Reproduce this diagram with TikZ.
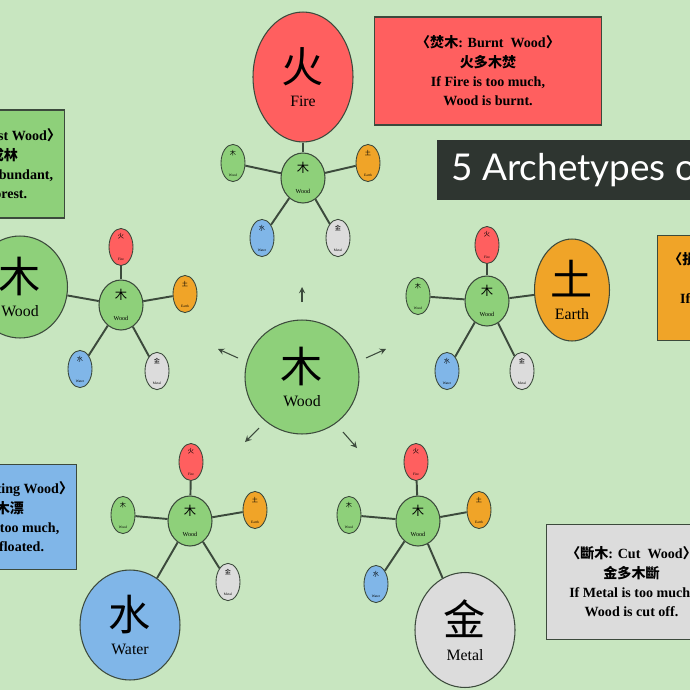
\documentclass[tikz,border=0pt]{standalone}
\usepackage{fontspec}
\setmainfont{Liberation Serif}
\newfontfamily\cjk{Noto Sans CJK SC}
\newfontfamily\titlefont{Lato}
\usetikzlibrary{shapes.geometric}
\definecolor{bg}{HTML}{C8E6C0}
\definecolor{firec}{HTML}{FF5F5F}
\definecolor{woodc}{HTML}{8ED07A}
\definecolor{earthc}{HTML}{F0A428}
\definecolor{waterc}{HTML}{80B6E8}
\definecolor{metalc}{HTML}{DCDCDC}
\definecolor{linec}{HTML}{3C4A3C}
\definecolor{titlec}{HTML}{2E3530}
\tikzset{
  big/.style={ellipse, draw=linec, line width=0.6pt, inner sep=0pt, align=center},
  hub/.style={ellipse, draw=linec, line width=0.6pt, fill=woodc, inner sep=0pt, minimum width=0.88cm, minimum height=1cm, align=center},
  sat/.style={ellipse, draw=linec, line width=0.5pt, inner sep=0pt, minimum width=0.48cm, minimum height=0.56cm, align=center},
  box/.style={draw=linec, line width=0.6pt, inner sep=2pt, align=center, font=\bfseries\fontsize{8}{11}\selectfont},
  link/.style={linec, line width=1.1pt},
  push/.style={-stealth, linec, line width=0.6pt},
}
\newcommand{\bigtxt}[2]{{\cjk\fontsize{24}{26}\selectfont #1}\\[2pt]{\fontsize{9}{10}\selectfont #2}}
\newcommand{\hubtxt}{{\cjk\fontsize{7}{7}\selectfont 木}\\{\fontsize{3.5}{4}\selectfont Wood}}
\newcommand{\sattxt}[2]{{\cjk\fontsize{3.5}{4}\selectfont #1}\\{\fontsize{2}{2}\selectfont #2}}
\newcommand{\lb}{{\cjk 〈}}
\newcommand{\rb}{{\cjk 〉}}
\begin{document}
\begin{tikzpicture}[x=0.02cm, y=-0.02cm]
	\useasboundingbox[fill=bg] (0,0) rectangle (690,690);
	% centre
	\node[big, fill=woodc, minimum size=2.28cm] (wood) at (302,377) {\bigtxt{木}{Wood}};
	\coordinate (u0) at (302,302); \coordinate (u1) at (302,287);
	\coordinate (l0) at (238,358); \coordinate (l1) at (218,349);
	\coordinate (r0) at (366,358); \coordinate (r1) at (386,349);
	\coordinate (bl0) at (259,428); \coordinate (bl1) at (245,442);
	\coordinate (br0) at (343,432); \coordinate (br1) at (357,448);
	\draw[push] (u0) -- (u1);
	\draw[push] (l0) -- (l1);
	\draw[push] (r0) -- (r1);
	\draw[push] (bl0) -- (bl1);
	\draw[push] (br0) -- (br1);
	% fire
	\node[big, fill=firec, minimum width=2cm, minimum height=2.6cm] (fire) at (303,77) {\bigtxt{火}{Fire}};
	\node[hub] (h1) at (303,178) {\hubtxt};
	\node[sat, fill=woodc] (g1) at (233,163) {\sattxt{木}{Wood}};
	\node[sat, fill=earthc] (o1) at (368,163) {\sattxt{土}{Earth}};
	\node[sat, fill=waterc] (b1) at (262,238) {\sattxt{水}{Water}};
	\node[sat, fill=metalc] (w1) at (338,238) {\sattxt{金}{Metal}};
	\draw[link] (h1) -- (fire);
	\draw[link] (h1) -- (g1);
	\draw[link] (h1) -- (o1);
	\draw[link] (h1) -- (b1);
	\draw[link] (h1) -- (w1);
	\node[box, fill=firec, minimum width=4.54cm, minimum height=2.16cm] (firebox) at (488,71) {\lb{\cjk 焚木}: Burnt\ \ Wood\rb\\{\cjk 火多木焚}\\If\ Fire\ is\ too\ much,\\Wood\ is\ burnt.};
	% title
	\node[fill=titlec, text=white, anchor=west, minimum height=1.2cm, inner xsep=8pt, font=\titlefont\fontsize{21}{24}\selectfont] (title) at (437,170) {5 Archetypes of Wood};
	% left wood
	\node[big, fill=woodc, minimum width=1.9cm, minimum height=2.04cm] (bigwood) at (20,287) {\bigtxt{木}{Wood}};
	\node[hub] (h2) at (121,305) {\hubtxt};
	\node[sat, fill=firec] (r2) at (121,247) {\sattxt{火}{Fire}};
	\node[sat, fill=earthc] (o2) at (185,294) {\sattxt{土}{Earth}};
	\node[sat, fill=waterc] (b2) at (80,369) {\sattxt{水}{Water}};
	\node[sat, fill=metalc] (w2) at (157,371) {\sattxt{金}{Metal}};
	\draw[link] (h2) -- (bigwood);
	\draw[link] (h2) -- (r2);
	\draw[link] (h2) -- (o2);
	\draw[link] (h2) -- (b2);
	\draw[link] (h2) -- (w2);
	\node[box, fill=woodc, minimum width=2.8cm, minimum height=2.16cm, anchor=east] (woodbox) at (65,164) {\lb{\cjk 林木}: Forest\ Wood\rb\\{\cjk 木多成林}\\If\ Wood\ is\ abundant,\\It\ is\ a\ forest.};
	% earth
	\node[big, fill=earthc, minimum width=1.5cm, minimum height=2.04cm] (earth) at (572,290) {\bigtxt{土}{Earth}};
	\node[hub] (h3) at (487,301) {\hubtxt};
	\node[sat, fill=firec] (r3) at (487,245) {\sattxt{火}{Fire}};
	\node[sat, fill=woodc] (g3) at (418,296) {\sattxt{木}{Wood}};
	\node[sat, fill=waterc] (b3) at (447,371) {\sattxt{水}{Water}};
	\node[sat, fill=metalc] (w3) at (522,371) {\sattxt{金}{Metal}};
	\draw[link] (h3) -- (earth);
	\draw[link] (h3) -- (r3);
	\draw[link] (h3) -- (g3);
	\draw[link] (h3) -- (b3);
	\draw[link] (h3) -- (w3);
	\node[box, fill=earthc, minimum width=3.4cm, minimum height=2.1cm, anchor=west] (earthbox) at (657,288) {\lb{\cjk 損木}: Broken\ Wood\rb\\{\cjk 土多木折}\\If\ Earth\ is\ too\ much,\\Wood\ is\ broken.};
	% water
	\node[big, fill=waterc, minimum width=2cm, minimum height=2.2cm] (water) at (130,625) {\bigtxt{水}{Water}};
	\node[hub] (h4) at (190,521) {\hubtxt};
	\node[sat, fill=firec] (r4) at (191,462) {\sattxt{火}{Fire}};
	\node[sat, fill=woodc] (g4) at (123,515) {\sattxt{木}{Wood}};
	\node[sat, fill=earthc] (o4) at (255,510) {\sattxt{土}{Earth}};
	\node[sat, fill=metalc] (w4) at (228,582) {\sattxt{金}{Metal}};
	\draw[link] (h4) -- (water);
	\draw[link] (h4) -- (r4);
	\draw[link] (h4) -- (g4);
	\draw[link] (h4) -- (o4);
	\draw[link] (h4) -- (w4);
	\node[box, fill=waterc, minimum width=3cm, minimum height=2.1cm, anchor=east] (waterbox) at (77,517) {\lb{\cjk 漂木}: Floating\ Wood\rb\\{\cjk 水多木漂}\\If\ Water\ is\ too\ much,\\Wood\ is\ floated.};
	% metal
	\node[big, fill=metalc, minimum width=2cm, minimum height=2.3cm] (metal) at (465,630) {\bigtxt{金}{Metal}};
	\node[hub] (h5) at (418,521) {\hubtxt};
	\node[sat, fill=firec] (r5) at (416,462) {\sattxt{火}{Fire}};
	\node[sat, fill=woodc] (g5) at (349,515) {\sattxt{木}{Wood}};
	\node[sat, fill=earthc] (o5) at (479,510) {\sattxt{土}{Earth}};
	\node[sat, fill=waterc] (b5) at (376,584) {\sattxt{水}{Water}};
	\draw[link] (h5) -- (metal);
	\draw[link] (h5) -- (r5);
	\draw[link] (h5) -- (g5);
	\draw[link] (h5) -- (o5);
	\draw[link] (h5) -- (b5);
	\node[box, fill=metalc, minimum width=3.4cm, minimum height=2.3cm, anchor=west] (metalbox) at (546,582) {\lb{\cjk 斷木}: Cut\ \ Wood\rb\\{\cjk 金多木斷}\\If\ Metal\ is\ too\ much,\\Wood\ is\ cut\ off.};
\end{tikzpicture}
\end{document}
